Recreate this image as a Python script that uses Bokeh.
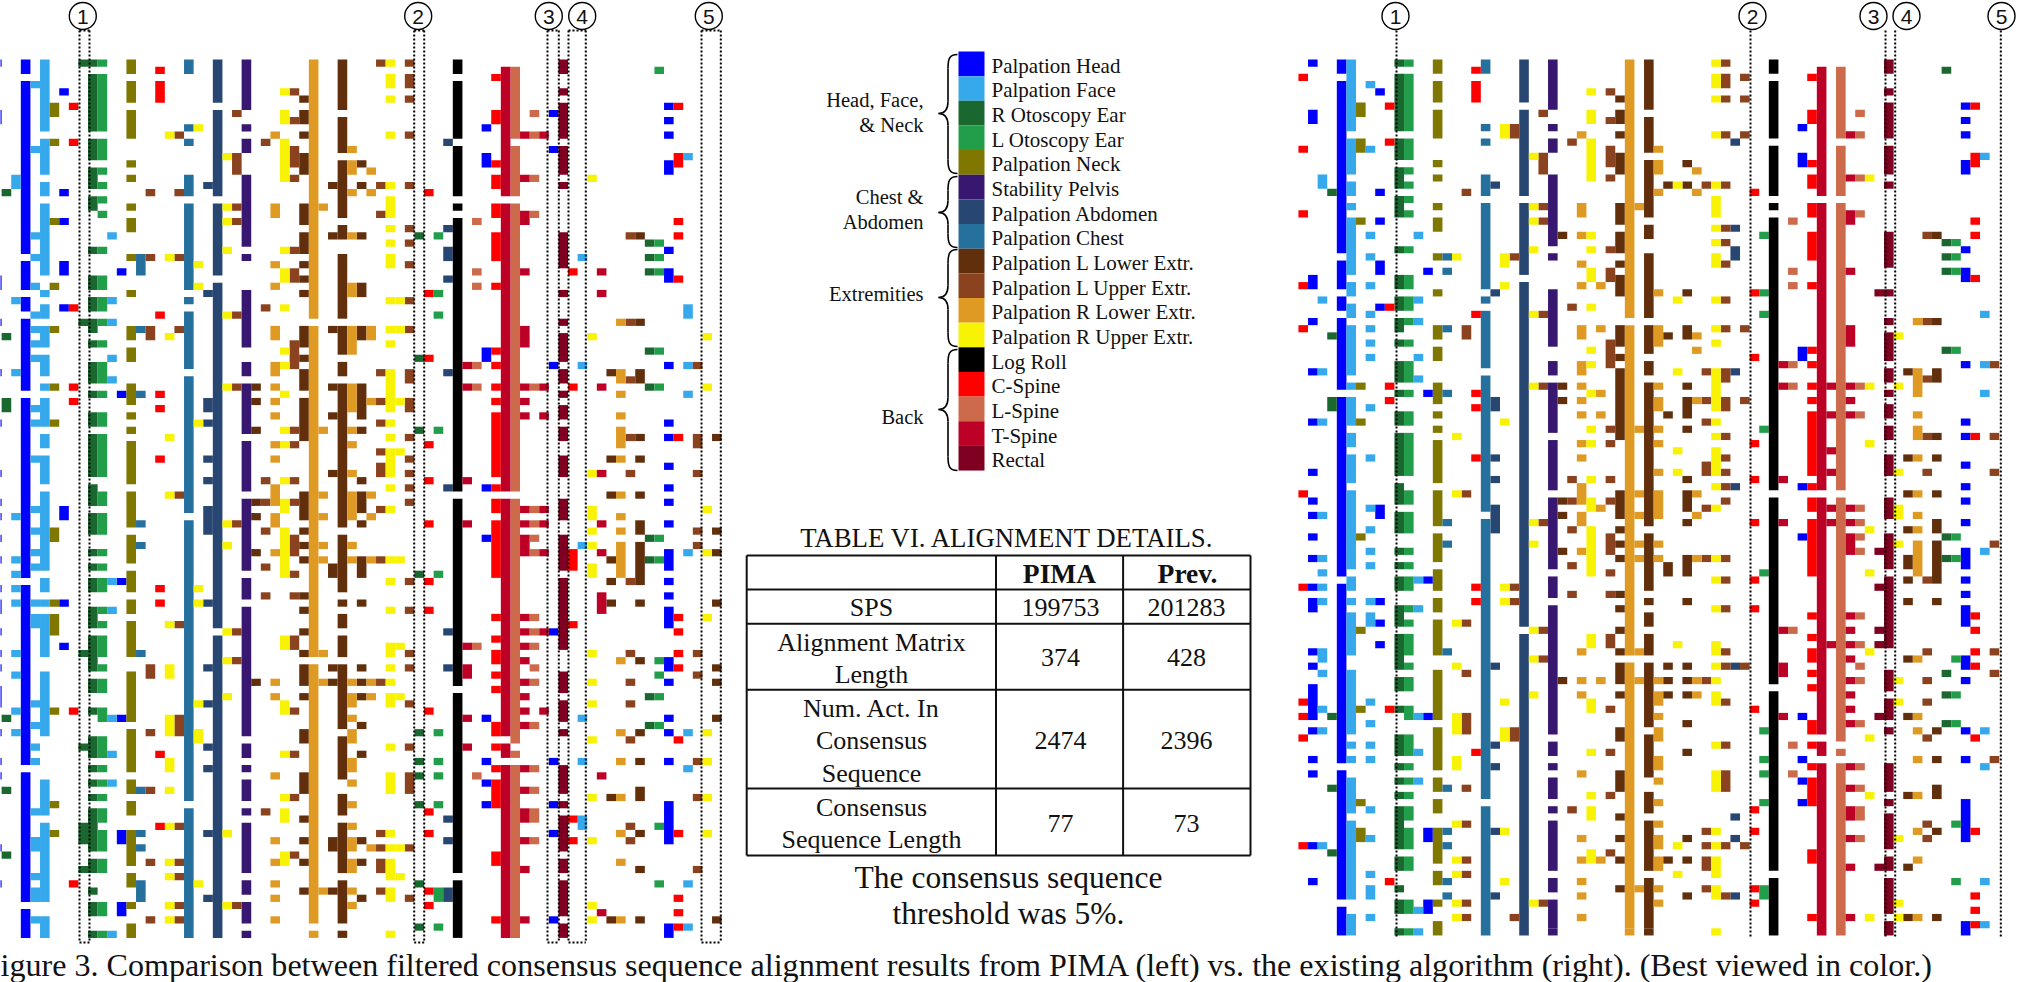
from bokeh.plotting import figure
from bokeh.embed import file_html
from bokeh.resources import INLINE
from bokeh.models import Range1d, ColumnDataSource
from bokeh.core.properties import value

ACTIVITIES = [
    ("H", "Palpation Head", "#0000FF"), ("F", "Palpation Face", "#36A9EC"),
    ("R", "R Otoscopy Ear", "#1A682F"), ("L", "L Otoscopy Ear", "#229E4B"),
    ("N", "Palpation Neck", "#7F7700"), ("P", "Stability Pelvis", "#37176F"),
    ("A", "Palpation Abdomen", "#284672"), ("C", "Palpation Chest", "#26709E"),
    ("D", "Palpation L Lower Extr.", "#622F0D"), ("U", "Palpation L Upper Extr.", "#8A431E"),
    ("G", "Palpation R Lower Extr.", "#DE9A23"), ("Y", "Palpation R Upper Extr.", "#F8F304"),
    ("K", "Log Roll", "#000000"), ("S", "C-Spine", "#FF0000"),
    ("M", "L-Spine", "#CD6A4B"), ("T", "T-Spine", "#BC0026"), ("E", "Rectal", "#7F0020"),
]
GROUPS = [("Head, Face,", 99, 54, 173, 113), ("& Neck", 124, None, None, None),
          ("Chest &", 196, 176, 247, 212), ("Abdomen", 221, None, None, None),
          ("Extremities", 293, 249, 346, 297), ("Back", 416, 349, 470, 409)]

# (column, activity, inclusive row runs)
LEFT = [
 (-3,"H","0 7-8 30-31 36 43 50 57 61 63 66 69 73 75-76 79 82 84 87-89 93 97 99 109 114"),
 (-2,"R","18 38 47-48 91 101 110"),
 (-1,"F","16-17 33 43 63 69 71 73 75 82 85 90 93"),
 (0,"H","0-1 3-26 28-31 33-34 36-45 47-71 73-97 99-116 118-121"),
 (1,"F","3 12 24 27 31 35 37 39 41 48 50 55 62 65 68 70 75 77-78 89 92 95 97 104 108-109 113 115-116 119"),
 (2,"F","0-9 11-15 17-18 20-29 32 34-35 37-39 41-43 45 47-50 52-53 55-58 60-70 72-73 75 77-82 85-93 100-104 106-116 119-121"),
 (3,"N","6-7 11 22 31 37 45 50 65-66 75 77-79 90 103 107"),
 (4,"H","4 18 22 28-29 34 62-63 75 81"),
 (5,"S","6 11 34 45 47 90 114"),
 (6,"R","0 36 82 95 106-108 112"),
 (7,"R","0 2-9 11-13 15-17 19-20 26 30-31 33-34 36-37 39 42-44 46 49-50 52-57 59-61 63-65 68 70 72-73 76-78 80-84 86-87 90 94-96 98 100 102 104-109 111-112 115 117-118 121"),
 (8,"L","0 2-9 11-13 15 17 19 21 26 30-31 33-34 36 39 42-44 46 49-50 52-57 60-61 63-65 68 70 72-73 76 78 80-82 84 86-87 90-91 94-96 98 100 102 104-105 107-109 111-112 117-118 121"),
 (9,"F","24 33 36 41 44 72 76 91 96 100 121"),
 (10,"H","29 46 72 91 107-108 117-118"),
 (11,"N","0-1 3-5 7-10 14 16 20 22-23 27 32 37-38 40-41 45-47 49 51 53-58 60-64 66-69 71-73 75-76 78-82 85-91 93-98 100-101 103-104 107-111 113-114 117 120-121"),
 (12,"C","27-29 37 46 64 67 82 101 107 109 114-116"),
 (13,"U","18 27 37-38 84-85 93 101 111 119"),
 (14,"S","1 3-5 35 46 48 55 73 75 96 106"),
 (15,"Y","10 27 38 52 60 78 84-85 91-93 97-98 101 106 111 113 117 119"),
 (16,"U","10 18 27 37 60 78 91-93 106 111 113 117 119"),
 (17,"C","0-1 9 11 16-18 20-31 33 35-42 44-62 64-102 104-121"),
 (18,"Y","9 28 31 50 73 75 89 93-94 114"),
 (19,"A","17 32 47-48 50 55 58 62-65 75 84 89 95 98 107 116"),
 (20,"A","0-5 7-18 20-29 31-78 80-121"),
 (21,"Y","13 20 22 26 35 45 64 67 79 83 88 107 117"),
 (22,"U","7 13-15 20 22 35 45 64 79 83 117"),
 (23,"P","0-6 9 11-12 16-25 27 32-39 42-43 45-51 53-59 61-70 72-74 76-93 95-96 98 100-102 104 106-112 114-115 117-119 121"),
 (24,"D","45 47 51 61 63 68 86"),
 (25,"U","11 34 58 61 65 70 74 104"),
 (26,"G","10 20-21 28 31 37-38 42-43 45 47 49 53 55 59-61 63-64 68 86 88 99 108 111 114 116 119"),
 (27,"Y","4 7-8 11-16 26 29-30 34 40 42 46 51 53 58 61-62 65-71 80-81 89-90 96 102 104-105 110-111"),
 (28,"U","4 8 12-14 16 26 29-30 39-42 51 53 58 61 66-68 71 74 80-81 90 96 102 110"),
 (29,"D","5 7-8 10 13-15 20-22 24-26 28 30 32 37-39 41 43-45 47-52 60-63 65 67 69 74 76 79 82 84-86 88 93-94 99-101 105 108 111 115"),
 (30,"G","0-35 37-82 84-119 121"),
 (31,"G","20 51 60 63 67 69 82 86 115"),
 (32,"D","17 24 37 45 49 57 70-71 84 86 108-109 115"),
 (33,"D","0-6 8-12 14-21 23-24 27-35 37-40 42-43 45-64 66-73 75 77-78 80-82 84-92 94-99 102-104 106-112 114-119 121"),
 (34,"G","12 14-15 18 24 31-32 37-40 45-48 51 53 57 60-63 67 69 86 88-89 91 93-94 97-98 100 103 106 108-109 111-112 115 117"),
 (35,"D","14 17 24 31-32 37-38 45-49 51 58 60-62 64 69-71 75 84 86 88 92 96 108 111 116"),
 (36,"G","15 18 37-38 47 60 63 69 86 88 109"),
 (37,"U","0 17 21 43 47 50 54 56-57 62 69 86 107 109 111-112 115"),
 (38,"Y","0 2-3 5 10 17 19-21 23 25 27-28 33 37 39 43-48 50 52 54-57 59 62 69 72 76 81-82 84 86 88-89 95 99-101 107 109 111-113 115-116 121"),
 (39,"Y","33 37 47 54 69 81 88 109 113"),
 (40,"U","0 2-3 5 10 17 23 25 28 33 37 43-44 47-48 52 55 57 59 61 72 76 82 84 89 95 99-101 109 116"),
 (41,"R","24 41 51 71 93 97 99 103 114 120"),
 (42,"S","18 32 41 53 58 64 72 76 90 104 107 115 117"),
 (43,"L","24 32 35 51 71 93 97 99 103 115-116 120"),
 (44,"A","11 23 26-27 30 43 59 79 84 105 108 115-116"),
 (45,"K","0-1 3-10 12-18 20 22-59 61-86 88-112 114-121"),
 (46,"T","42 45 58 64 81 84-85 91 95"),
 (47,"M","22 29 31 42 45 81 99"),
 (48,"H","9 13-14 40-41 59 66 91 97 100 103"),
 (49,"S","2 7-8 14 16-17 20-21 24-27 31 40 42 45 47 49-57 59 61-62 64-71 77 80 82-83 85 87 92-93 95 98 100-103 110-111 119"),
 (50,"T","1-18 20-59 61-93 95-96 98-121"),
 (51,"M","1-10 12-18 20-59 61-94 96 98-121"),
 (52,"T","10 16 21-22 29 37-39 45 47 49 62 64 66-68 77 79 81 83 86 88 90 92 98 101 104-105 108 112 119"),
 (53,"M","7 10 16 21 45 62 64 66 68 77 79 81 84 86 92 98 101 104-105 108"),
 (54,"T","10 45 49 62 64 68 79 90"),
 (55,"H","7 12 42 79 97 103 107 119"),
 (56,"E","0-1 4 6-10 12-15 17 24-28 32 36 38-41 43-44 46 48-49 51-52 55-57 61-63 66-70 72-81 85-87 89-91 93 98-101 103 105-109 111-112 114-118 120-121"),
 (57,"S","29 45 68-70 78 105 108"),
 (58,"F","27 42 67 91 97 105-106"),
 (59,"Y","16 38 57 62-63 65 67 70-71 82 86 89 94 102 108 117 119"),
 (60,"T","29 32 45 57 64 68 74-76 99 118"),
 (61,"D","43 55 60 69 72 75 102 119"),
 (62,"G","36 43-44 46 49 51-53 55 60 63 65 67-71 83 93 97 102 107 111 119"),
 (63,"U","24 36 44 52 57 72 82 86 89 94 106 108"),
 (64,"D","24 36 43-44 52 55 60 64-65 67-72 75 83 93 97 101-102 107 112 119"),
 (65,"R","25 27 29 40 45 66 69 88 92"),
 (66,"L","1 25 27 29 40 45 66 69 83 85 88 92 106 114"),
 (67,"H","6 8 10 14-15 26 29-30 42 50 52 56 59 61 64 68-70 72 74 76-78 83-84 86 91 93 97 103-108 120-121"),
 (68,"S","6 13-14 22 24 30 52 77 79 82 84 94 107 116 118 120"),
 (69,"F","13 34-35 42 46 68 93 98 114 120"),
 (70,"U","42 52-53 57 65 67 82 85 97 102 112"),
 (71,"Y","38 45 62 68 77 93 97 102 107"),
 (72,"D","52 65 68 75 84 86 91 119"),
]
RIGHT = [
 (-4,"S","2 12 21 31 37 60 73 89 91 94 109"),
 (-3,"H","0 7-8 30-31 36 43 50 57 61 63 66 69 73 75-76 82 84 87-91 93 97 99 109 114"),
 (-2,"F","16-17 33 43 50 63 69 71 73 75 82-83 85 90 93 109"),
 (-1,"R","18 38 47-48 91 101 110"),
 (0,"H","0-1 3-26 28-31 33-34 36-45 47-71 73-97 99-116 118-121"),
 (1,"F","0-9 11-15 17-18 20 22-29 31-32 34-35 37-43 45 47-50 52-53 55-58 60-70 72-73 75 77-82 85-93 95 97 100-104 106-116 119-121"),
 (2,"N","6-7 11-12 22 45 50 66 79 90 103 107-108"),
 (3,"F","3 12 24 27 31 35 37 39 41 48 55 62 65 68 70 75 77-78 89 92 95 97 104 108 113 115-116 119"),
 (4,"H","4 18 22 28-29 34 62-63 75 78 81"),
 (5,"S","6 11 34 45 47 90 114"),
 (6,"R","0 2-9 11-13 15-17 19-21 26 30-31 33-34 36-37 39 42-44 46 49-50 52-57 59-61 63-65 68 70 72-73 76-78 80-84 86-87 90 94-96 98 100 102 104-109 111-112 115 117-118 121"),
 (7,"L","0 2-9 11-13 15 17 19 21 26 30-31 33-34 36 39 42-44 46 49-50 52-57 60-61 63-65 68 70 72-73 76 78 80-82 84 86-87 90-91 94-96 98 100 102 104-105 107-109 111-112 117-118 121"),
 (8,"F","24 33 36 41 44 72 76 91 96 100 118 121"),
 (9,"H","29 46 72 91 107-108 117-118"),
 (10,"N","0-1 3-5 7-10 14 16 20 22-23 27 32 37-38 40-41 45-47 49 51 53-58 60-64 66-69 71-73 75-76 78-82 85-91 93-98 100-101 103-104 107-111 113-114 117 120-121"),
 (11,"C","27 29 37 46 64 67 82 101 107 109 114 116"),
 (12,"Y","27 52 60 78 84 91-93 97-98 106 111 113 117 119"),
 (13,"U","18 37-38 60 78 85 91-93 101 106 111 113 117 119"),
 (14,"S","1 3-5 35 46 48 55 73 75 96"),
 (15,"C","0-1 9 11 16-18 20-31 33 35-42 44-62 64-102 104-121"),
 (16,"A","17 32 47-48 55 58 62-65 84 95 98 107 116"),
 (17,"Y","9-10 27-28 31 50 73 75 89 93-94 107 114"),
 (18,"U","9-10 27 73 75 93-94 119"),
 (19,"A","0-5 7-18 20-29 31-78 80-121"),
 (20,"Y","13 20 22 26 35 45 64 67 79 83 88 117"),
 (21,"U","7 13-15 20 22 35 45 64 79 83 117"),
 (22,"P","0-6 9 11-12 16-25 27 32-39 42-43 45-51 53-59 61-70 72-74 76-93 95-96 98 100-102 104 106-112 114-115 117-120 121"),
 (23,"D","24 45 47 61 63 68 86"),
 (24,"U","11 34 58 61 65 70 74 104"),
 (25,"G","10 20-21 24 28 31 37-38 42-43 45 47 49 53 55 59-61 63-64 68 82 86 88 99 108 111 114 116 119"),
 (26,"Y","4 7-8 11-16 24 26 29-30 34 40 42 46 51 53 58 61-62 65-71 80-81 89-90 96 102 104-105 110-111"),
 (27,"G","31 37 46 49 62 86 111"),
 (28,"U","4 8 12-14 16 26 29-30 39-42 51 53 58 61 66-68 71 74 80-81 90 96 102 110"),
 (29,"D","5 7-8 10 13-15 20-22 24-26 28 30-32 37-39 41 43-52 60-63 65 67 69 74 76 79 82 84-86 88 93-94 99-101 105 108 111 115"),
 (30,"G","0-35 37-82 84-120 121"),
 (31,"G","20 51 60 63 67 69 82 86 115"),
 (32,"D","0-6 8-12 14-21 23-24 27-35 37-40 42-43 45-64 66-73 75 77-78 80-82 84-92 94-99 102-104 106-112 114-120 121"),
 (33,"G","12 14-15 18 32 37-39 45 47-48 51 53 57 60-63 67 69 86 88-89 91 93-94 97-98 100 103 106 108-109 111-112 115 117"),
 (34,"D","17 38 49 70-71 84 86 88 111"),
 (35,"Y","17 33 43 54 57 81 109 113"),
 (36,"D","14 17 32 37-38 45 47-49 51 58 60-62 64 69-71 75 84 86 88 92 96 108 111 116"),
 (37,"G","15 18 38 40 47 60 63 69 86 88"),
 (38,"U","17 43 47 50 56-57 62 69 86 107 109 111-112 115"),
 (39,"Y","0 2-3 5 10 17 19-21 23 25 27-28 33 37 39 43-48 50 52 54-57 59 62 69 72 76 81-82 84 86 88-89 95 99-101 107 109 111-113 115-116 121"),
 (40,"U","0 2-3 5 10 17 23 25 28 33 37 43-44 47-48 52 55 57 59 61 69 72 76 82 84 89 95 99-101 109 116"),
 (41,"A","11 23 26-27 43 59 84 105 108 116"),
 (42,"U","2 5 10 37 47 84 109"),
 (43,"S","18 32 41 53 58 64 72 76 90 104 107 115 117"),
 (44,"L","24 32 35 51 71 93 97 99 103 115-116"),
 (45,"K","0-1 3-10 12-18 20 22-59 61-86 88-112 114-121"),
 (46,"T","42 45 58 64 79 84-85 91"),
 (47,"M","22 29 31 42 45 79 95 99"),
 (48,"H","9 13-14 40-41 59 66 91 97 100 103"),
 (49,"S","2 7-8 14 16-17 20-21 24-27 31 40 42 45 47 49-57 59 61-62 64-71 77 80 82-83 85 87 92-93 95 98 100-103 110-111 119"),
 (50,"T","1-18 20-59 61-93 95-96 98-121"),
 (51,"T","45 49 54 57 62 64 81"),
 (52,"M","1-10 12-18 20-59 61-94 96 98-121"),
 (53,"T","10 16 21-22 29 37-39 45 47 49 62 64 66-68 77 79 81 83 86 88 90 92 98 101 104-105 108 112 119"),
 (54,"M","7 10 16 21 45 49 62 64 66 68 77 81 84 86 92 98 101 104-105 108"),
 (55,"Y","16 45 53 65 71 82 94 102 119"),
 (56,"E","32 68 73 79 81 91 112"),
 (57,"E","0-1 4 6-10 12-15 17 24-28 32 36 38-41 43-44 46 48-49 51-52 55-57 61-63 66-70 72-81 85-87 89-91 93 98-101 103 105-109 111-112 114-118 120-121"),
 (58,"Y","38 45 57 62-63 67 86 89 108 117 119"),
 (59,"D","43 55 60 65 69-70 72 75 83 91 102 112 119"),
 (60,"G","36 43-46 49 51-52 55 60 63 65 67-71 83 91 93 97 102 107 111 119"),
 (61,"U","24 36 44 52 57 72 82 86 89 94 106 108"),
 (62,"D","24 36 43-44 52 55 60 64-65 67-72 75 93 97 101-102 107 119"),
 (63,"R","1 25 27 29 40 66 69 85 88 92"),
 (64,"L","25 27 29 40 66 69 83 88 92 106 114"),
 (65,"H","6 8 10 14-15 26 29-30 42 50 52 56 59 61 64 68-70 72 74 76-78 83-84 86 93 97 103-108 120-121"),
 (66,"S","6 13-14 22 24 30 52 77 79 82 84 94 107 116 118 120"),
 (67,"F","13 35 42 46 68 93 98 114 120"),
 (68,"U","42 52 57 67 82 85 97"),
]
MARKERS_LEFT = [("1", 82.3), ("2", 417.7), ("3", 548.3), ("4", 581.7), ("5", 708.3)]
MARKERS_RIGHT = [("1", 1395), ("2", 1752), ("3", 1873), ("4", 1906), ("5", 2001)]
BOXES_LEFT = [(79, 89), (413.7, 423.7), (547, 558.3), (568, 585.3), (701, 720.3)]
LINES_RIGHT = [1396, 1750, 1885, 1894.7, 2000.3]

TABLE_TITLE = "TABLE VI. ALIGNMENT DETAILS."
TABLE_TEXT = [
    ("SPS", 871, 607), ("199753", 1060, 607), ("201283", 1186, 607),
    ("Alignment Matrix", 871, 641.7), ("Length", 871, 674), ("374", 1060, 657), ("428", 1186, 657),
    ("Num. Act. In", 871, 708), ("Consensus", 871, 740), ("Sequence", 871, 772.7),
    ("2474", 1060, 740), ("2396", 1186, 740),
    ("Consensus", 871, 806.7), ("Sequence Length", 871, 839), ("77", 1060, 822.7), ("73", 1186, 822.7),
]
TABLE_HEAD = [("PIMA", 1059, 572.7), ("Prev.", 1187, 572.7)]
NOTE = [("The consensus sequence", 877), ("threshold was 5%.", 913)]
CAPTION = "igure 3. Comparison between filtered consensus sequence alignment results from PIMA (left) vs. the existing algorithm (right). (Best viewed in color.)"

SERIF = value("Liberation Serif")
p = figure(width=2017, height=982, output_backend="svg", toolbar_location=None,
           x_range=Range1d(0, 2017), y_range=Range1d(982, 0), min_border=0,
           background_fill_color="white", outline_line_color=None)
p.axis.visible = False
p.grid.visible = False


def parse_runs(text):
    out = []
    for tok in text.split():
        a, _, b = tok.partition("-")
        out.append((int(a), int(b or a)))
    return out


COLOR = {c: col for c, _, col in ACTIVITIES}


def draw_panel(table, x0, dx, y0, dy):
    data = {c: dict(left=[], right=[], top=[], bottom=[]) for c in COLOR}
    for col, code, runs in table:
        for a, b in parse_runs(runs):
            d = data[code]
            d["left"].append(x0 + col * dx)
            d["right"].append(x0 + (col + 1) * dx)
            d["top"].append(y0 + a * dy)
            d["bottom"].append(y0 + (b + 1) * dy)
    for code, d in data.items():
        if d["left"]:
            p.quad(source=ColumnDataSource(d), left="left", right="right", top="top", bottom="bottom",
                   fill_color=COLOR[code], line_color=None)


draw_panel(LEFT, 20.33, 9.6, 59, 7.2)
draw_panel(RIGHT, 1336.33, 9.6, 59, 7.18)

# dotted guides
for a, b in BOXES_LEFT:
    p.line([a, a], [30, 942], line_color="black", line_width=2, line_dash="2 2")
    p.line([b, b], [30, 942], line_color="black", line_width=2, line_dash="2 2")
    p.line([a, b], [30, 30], line_color="black", line_width=2, line_dash="2 2")
    p.line([a, b], [942, 942], line_color="black", line_width=2, line_dash="2 2")
for x in LINES_RIGHT:
    p.line([x, x], [30, 938], line_color="black", line_width=2, line_dash="2 2")

for lab, x in MARKERS_LEFT + MARKERS_RIGHT:
    p.scatter([x], [15.5], size=27, marker="circle", fill_color="white", line_color="black", line_width=1.4)
    p.text([x], [16], text=[lab], text_font=value("Liberation Sans"), text_font_size="21px",
           text_align="center", text_baseline="middle", text_color="#111111")

# legend
BLOCK_TOP, BLOCK_H = 51, 24.65
for i, (_, name, col) in enumerate(ACTIVITIES):
    top = BLOCK_TOP + i * BLOCK_H
    p.quad(left=[958], right=[984], top=[top], bottom=[top + BLOCK_H], fill_color=col, line_color=None)
    p.text([991], [top + BLOCK_H / 2 + 2], text=[name], text_font=SERIF, text_font_size="21px",
           text_align="left", text_baseline="middle", text_color="#111111")

for lab, y, y0, y1, tip in GROUPS:
    p.text([923], [y], text=[lab], text_font=SERIF, text_font_size="20.5px",
           text_align="right", text_baseline="middle", text_color="#111111")
    if y0 is None:
        continue
    xa, xm, xt = 957, 947.5, 938
    segs = [(xa, y0, xm, y0 + 14, xm + 1, y0, xm, y0 + 5),
            (xm, tip - 12, xt, tip, xm, tip - 4, xm - 3, tip),
            (xt, tip, xm, tip + 12, xm - 3, tip, xm, tip + 4),
            (xm, y1 - 14, xa, y1, xm, y1 - 5, xm + 1, y1)]
    for x0_, y0_, x1_, y1_, cx0, cy0, cx1, cy1 in segs:
        p.bezier(x0=[x0_], y0=[y0_], x1=[x1_], y1=[y1_], cx0=[cx0], cy0=[cy0], cx1=[cx1], cy1=[cy1],
                 line_color="black", line_width=1.6)
    p.line([xm, xm], [y0 + 14, tip - 12], line_color="black", line_width=1.6)
    p.line([xm, xm], [tip + 12, y1 - 14], line_color="black", line_width=1.6)

# table
T_X = [746.2, 995.5, 1122.6, 1250]
T_Y = [555, 589, 623.3, 689.3, 788, 855]
for x in T_X:
    p.line([x, x], [T_Y[0], T_Y[-1]], line_color="#111111", line_width=2)
for y in T_Y:
    p.line([T_X[0], T_X[-1]], [y, y], line_color="#111111", line_width=2)
p.text([1007], [537], text=[TABLE_TITLE], text_font=SERIF, text_font_size="26.8px",
       text_align="center", text_baseline="middle", text_color="#111111")
for lab, x, y in TABLE_HEAD:
    p.text([x], [y], text=[lab], text_font=SERIF, text_font_size="27.5px", text_font_style="bold",
           text_align="center", text_baseline="middle", text_color="#111111")
for lab, x, y in TABLE_TEXT:
    p.text([x], [y], text=[lab], text_font=SERIF, text_font_size="26px",
           text_align="center", text_baseline="middle", text_color="#111111")
for lab, y in NOTE:
    p.text([1008], [y], text=[lab], text_font=SERIF, text_font_size="31.5px",
           text_align="center", text_baseline="middle", text_color="#111111")
p.text([0], [964], text=[CAPTION], text_font=SERIF, text_font_size="32.1px",
       text_align="left", text_baseline="middle", text_color="#111111")

open("out.html", "w").write(file_html(p, INLINE))
